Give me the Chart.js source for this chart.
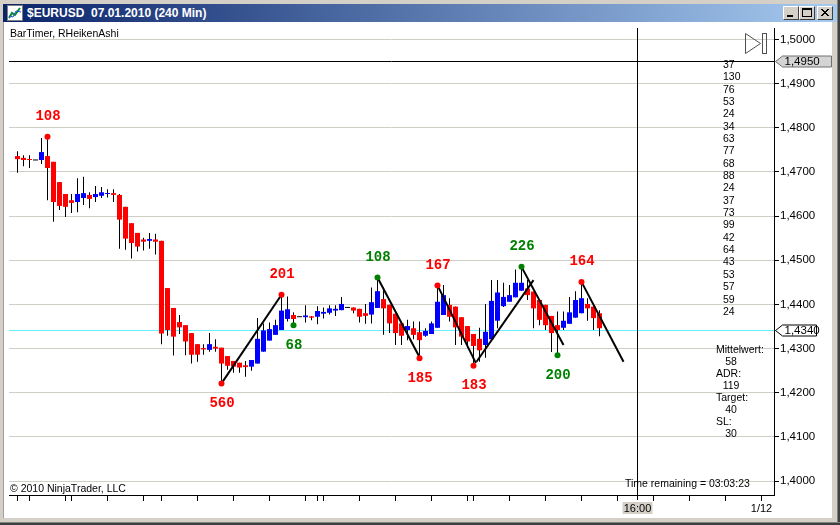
<!DOCTYPE html>
<html>
<head>
<meta charset="utf-8">
<script src="https://cdn.jsdelivr.net/npm/chart.js@4/dist/chart.umd.min.js"></script>
<style>
html,body{margin:0;padding:0;width:840px;height:525px;overflow:hidden;background:#d4d0c8;font-family:"Liberation Sans",Arial,sans-serif;}
#title{position:absolute;left:3px;top:4px;width:834px;height:18px;background:linear-gradient(to right,#0a246a,#a6caf0);}
#ttext{position:absolute;left:24px;top:2px;color:#fff;font:bold 12px "Liberation Sans",Arial,sans-serif;white-space:pre;line-height:14px;}
#ticon{position:absolute;left:4px;top:1px;}
.btn{position:absolute;top:2px;width:14px;height:12px;background:#d4d0c8;border-top:1px solid #fff;border-left:1px solid #fff;border-right:1px solid #404040;border-bottom:1px solid #404040;}
.btn svg{position:absolute;left:0;top:0;}
#client{position:absolute;left:3px;top:22px;width:828px;height:496px;background:#fff;border-left:1px solid #a0a0a0;}
#c{position:absolute;left:4px;top:22px;}
#rb1{position:absolute;left:837px;top:0;width:1px;height:525px;background:#808080;}
#rb2{position:absolute;left:838px;top:0;width:2px;height:525px;background:#404040;}
#bb1{position:absolute;left:0;top:522px;width:840px;height:1px;background:#808080;}
#bb2{position:absolute;left:0;top:523px;width:840px;height:2px;background:#404040;}
</style>
</head>
<body>
<div id="title">
  <svg id="ticon" width="16" height="16"><rect x="0.5" y="0.5" width="15" height="15" fill="#fff" stroke="#808080"/><polyline points="2,13 5,8 8,10 13,3" fill="none" stroke="#0a8a30" stroke-width="2"/><polyline points="2,11 6,12 9,6 14,7" fill="none" stroke="#2050d0" stroke-width="1"/></svg>
  <div id="ttext">$EURUSD  07.01.2010 (240 Min)</div>
  <div class="btn" style="left:780px"><svg width="14" height="12"><rect x="3" y="8" width="6" height="2" fill="#000"/></svg></div>
  <div class="btn" style="left:796px"><svg width="14" height="12"><rect x="2.5" y="1.5" width="9" height="8" fill="none" stroke="#000"/><rect x="2" y="1" width="10" height="2" fill="#000"/></svg></div>
  <div class="btn" style="left:814px"><svg width="14" height="12"><path d="M3,2 L10,9 M10,2 L3,9 M4,2 L11,9 M11,2 L4,9" stroke="#000" stroke-width="1"/></svg></div>
</div>
<div id="client"></div>
<canvas id="c" width="828" height="496" style="width:828px;height:496px"></canvas>
<div id="rb1"></div><div id="rb2"></div><div id="bb1"></div><div id="bb2"></div>
<script>
// ---- Heiken-Ashi bars (240 min) ----
const openP = [1.4736,1.4732,1.4729,1.4726,1.4727,1.4736,1.4723,1.4677,1.4650,1.4636,
1.4632,1.4641,1.4648,1.4643,1.4646,1.4650,1.4652,1.4648,1.4621,1.4584,
1.4562,1.4547,1.4544,1.4547,1.4544,1.4437,1.4392,1.4360,1.4353,1.4335,
1.4310,1.4301,1.4297,1.4304,1.4302,1.4283,1.4272,1.4268,1.4262,1.4259,
1.4266,1.4293,1.4318,1.4331,1.4342,1.4367,1.4376,1.4371,1.4371,1.4373,
1.4372,1.4379,1.4381,1.4386,1.4387,1.4392,1.4393,1.4390,1.4380,1.4377,
1.4392,1.4412,1.4399,1.4379,1.4357,1.4342,1.4346,1.4337,1.4329,1.4333,
1.4347,1.4376,1.4399,1.4395,1.4371,1.4351,1.4333,1.4322,1.4308,1.4321,
1.4363,1.4396,1.4406,1.4416,1.4431,1.4436,1.4429,1.4410,1.4399,1.4374,
1.4353,1.4347,1.4356,1.4370,1.4380,1.4401,1.4395,1.4380];
const highP = [1.4747,1.4738,1.4738,1.4726,1.4777,1.4779,1.4723,1.4677,1.4650,1.4650,
1.4686,1.4689,1.4654,1.4668,1.4666,1.4661,1.4661,1.4650,1.4621,1.4584,
1.4562,1.4551,1.4562,1.4560,1.4544,1.4437,1.4392,1.4376,1.4353,1.4335,
1.4310,1.4310,1.4335,1.4321,1.4302,1.4283,1.4272,1.4268,1.4272,1.4274,
1.4369,1.4357,1.4359,1.4365,1.4422,1.4418,1.4382,1.4371,1.4398,1.4374,
1.4396,1.4393,1.4398,1.4398,1.4417,1.4392,1.4393,1.4390,1.4401,1.4438,
1.4461,1.4433,1.4399,1.4379,1.4357,1.4365,1.4361,1.4361,1.4346,1.4361,
1.4443,1.4444,1.4414,1.4395,1.4371,1.4351,1.4333,1.4347,1.4401,1.4455,
1.4455,1.4449,1.4444,1.4479,1.4485,1.4455,1.4429,1.4410,1.4399,1.4374,
1.4384,1.4384,1.4417,1.4430,1.4451,1.4414,1.4395,1.4387];
const lowP = [1.4698,1.4713,1.4709,1.4726,1.4718,1.4636,1.4587,1.4614,1.4598,1.4607,
1.4609,1.4625,1.4618,1.4632,1.4641,1.4642,1.4632,1.4526,1.4524,1.4504,
1.4520,1.4522,1.4526,1.4513,1.4310,1.4329,1.4284,1.4333,1.4285,1.4266,
1.4270,1.4286,1.4293,1.4293,1.4221,1.4252,1.4245,1.4245,1.4236,1.4250,
1.4266,1.4293,1.4318,1.4331,1.4342,1.4361,1.4353,1.4371,1.4359,1.4364,
1.4355,1.4368,1.4377,1.4374,1.4387,1.4392,1.4380,1.4359,1.4356,1.4357,
1.4392,1.4331,1.4335,1.4308,1.4308,1.4319,1.4321,1.4278,1.4327,1.4333,
1.4347,1.4376,1.4361,1.4308,1.4308,1.4301,1.4261,1.4270,1.4279,1.4321,
1.4346,1.4394,1.4406,1.4416,1.4431,1.4410,1.4346,1.4353,1.4342,1.4292,
1.4285,1.4342,1.4356,1.4370,1.4380,1.4363,1.4342,1.4328];
const closeP = [1.4729,1.4727,1.4727,1.4726,1.4745,1.4709,1.4632,1.4623,1.4621,1.4630,
1.4650,1.4652,1.4639,1.4650,1.4654,1.4652,1.4648,1.4592,1.4549,1.4539,
1.4531,1.4542,1.4548,1.4542,1.4334,1.4342,1.4327,1.4348,1.4316,1.4286,
1.4286,1.4298,1.4310,1.4300,1.4266,1.4261,1.4259,1.4257,1.4258,1.4274,
1.4322,1.4341,1.4344,1.4353,1.4386,1.4389,1.4367,1.4371,1.4375,1.4370,
1.4385,1.4383,1.4391,1.4390,1.4401,1.4392,1.4386,1.4372,1.4374,1.4405,
1.4430,1.4391,1.4357,1.4335,1.4329,1.4351,1.4331,1.4319,1.4340,1.4357,
1.4406,1.4421,1.4372,1.4348,1.4327,1.4316,1.4306,1.4296,1.4338,1.4408,
1.4427,1.4417,1.4421,1.4449,1.4449,1.4421,1.4391,1.4365,1.4353,1.4335,
1.4342,1.4363,1.4382,1.4410,1.4414,1.4391,1.4369,1.4346];

// ---- swing points (bar index, price, label, side) ----
const swingRedIdx   = [5, 34, 44, 67, 70, 76, 94];
const swingRedPrice = [1.4780, 1.4221, 1.4422, 1.4278, 1.4443, 1.4261, 1.4451];
const swingRedText  = ['108','560','201','185','167','183','164'];
const swingRedSide  = ['H','L','H','L','H','L','H'];
const swingGreenIdx   = [46, 60, 84, 90];
const swingGreenPrice = [1.4353, 1.4461, 1.4485, 1.4285];
const swingGreenText  = ['68','108','226','200'];
const swingGreenSide  = ['L','H','H','L'];

// ---- projection lines (start bar, start price, end bar, end price) ----
const segStartX = [34, 60, 70, 76.5, 84, 94];
const segStartY = [1.4221, 1.4461, 1.4443, 1.4270, 1.4485, 1.4451];
const segEndX   = [44, 67.1, 76.4, 86, 91, 101];
const segEndY   = [1.4422, 1.4278, 1.4267, 1.4455, 1.4308, 1.4270];

// ---- axis / annotation values ----
const timeTickBars = [0,2,8,9,15,21,24,30,36,42,48,50,51,57,63,69,75,76,82,88,94,100,106,112,118,124];
const timeTickLabels = {124: '1/12'};
const rangeValues = [37,130,76,53,24,34,63,77,68,88,24,37,73,99,42,64,43,53,57,59,24];
const statLabels = ['Mittelwert:','ADR:','Target:','SL:'];
const statValues = [58, 119, 40, 30];
const crossPrice = 1.4950;
const lastPrice = 1.4340;
const cursorBar = 103.33;
const cursorLabel = '16:00';
const timeRemaining = '03:03:23';

const fmt = v => v.toFixed(4).replace('.', ',');
const FONT = '"Liberation Sans", Arial, sans-serif';

const wickData = openP.map((o, i) => ({x: i, y: [lowP[i], highP[i]]}));
const bodyData = openP.map((o, i) => ({x: i, y: [o, closeP[i]]}));
const bodyColors = openP.map((o, i) => closeP[i] > o ? '#0000ff' : (closeP[i] < o ? '#ff0000' : '#000000'));

const segDatasets = segStartX.map((sx, k) => ({
  type: 'line', order: 3,
  data: [{x: sx, y: segStartY[k]}, {x: segEndX[k], y: segEndY[k]}],
  borderColor: '#000', borderWidth: 2, pointRadius: 0, fill: false, tension: 0
}));

const overlay = {
  id: 'overlay',
  beforeDatasetsDraw(chart) {
    const {ctx, chartArea: a, scales: {x, y}} = chart;
    ctx.save();
    ctx.lineWidth = 1;
    const yl = Math.floor(y.getPixelForValue(lastPrice)) + 0.5;
    ctx.strokeStyle = '#66eeff';
    ctx.beginPath(); ctx.moveTo(a.left, yl); ctx.lineTo(a.right, yl); ctx.stroke();
    const yc = Math.floor(y.getPixelForValue(crossPrice)) + 0.5;
    ctx.strokeStyle = '#000';
    ctx.beginPath(); ctx.moveTo(a.left, yc); ctx.lineTo(a.right, yc); ctx.stroke();
    const xc = Math.floor(x.getPixelForValue(cursorBar)) + 0.5;
    ctx.beginPath(); ctx.moveTo(xc, a.top); ctx.lineTo(xc, a.bottom + 5); ctx.stroke();
    ctx.restore();
  },
  afterDatasetsDraw(chart) {
    const {ctx, scales: {x, y}} = chart;
    ctx.save();
    ctx.font = 'bold 14px "Liberation Mono", "Courier New", monospace';
    ctx.textAlign = 'center'; ctx.textBaseline = 'middle';
    const draw = (idx, pr, tx, sd, col) => {
      idx.forEach((b, k) => {
        const px = x.getPixelForValue(b), py = y.getPixelForValue(pr[k]);
        ctx.fillStyle = col;
        ctx.fillText(tx[k], px + 0.5, py + (sd[k] === 'H' ? -20 : 20));
      });
    };
    draw(swingRedIdx, swingRedPrice, swingRedText, swingRedSide, '#ff0000');
    draw(swingGreenIdx, swingGreenPrice, swingGreenText, swingGreenSide, '#008000');
    ctx.restore();
  },
  afterDraw(chart) {
    const {ctx, chartArea: a, scales: {x, y}} = chart;
    ctx.save();
    ctx.textBaseline = 'middle';
    ctx.fillStyle = '#000';
    ctx.font = '10.5px ' + FONT;
    ctx.textAlign = 'left';
    ctx.fillText('BarTimer, RHeikenAshi', 6, 12);
    // range column
    ctx.font = '10.5px ' + FONT;
    rangeValues.forEach((v, k) => ctx.fillText(String(v), 719, 43 + 12.35 * k));
    // stats block
    statLabels.forEach((l, k) => {
      ctx.textAlign = 'left';
      ctx.fillText(l, 712, 328 + 24.2 * k);
      ctx.textAlign = 'center';
      ctx.fillText(String(statValues[k]), 727, 340 + 24.2 * k);
    });
    ctx.textAlign = 'left';
    ctx.fillText('Time remaining = ' + timeRemaining, 621, 462);
    ctx.fillText('\u00A9 2010 NinjaTrader, LLC', 6, 467);
    // scroll-to-end icon
    ctx.strokeStyle = '#505050'; ctx.lineWidth = 1;
    ctx.beginPath(); ctx.moveTo(741.5, 11.5); ctx.lineTo(756.5, 21.5); ctx.lineTo(741.5, 31.5); ctx.closePath(); ctx.stroke();
    ctx.strokeRect(758.5, 11.5, 4, 20);
    // price markers on the axis
    const marker = (price, fill, stroke, wEnd) => {
      const py = Math.floor(y.getPixelForValue(price)) + 0.5;
      const l = a.right + 1.5, bx = a.right + 8.5;
      ctx.beginPath();
      ctx.moveTo(l, py); ctx.lineTo(bx, py - 5.5); ctx.lineTo(wEnd, py - 5.5);
      ctx.lineTo(wEnd, py + 5.5); ctx.lineTo(bx, py + 5.5); ctx.closePath();
      ctx.fillStyle = fill; ctx.fill();
      ctx.strokeStyle = stroke; ctx.stroke();
      ctx.fillStyle = '#000'; ctx.font = '11.5px ' + FONT; ctx.textAlign = 'left';
      ctx.fillText(fmt(price), bx + 2, py + 0.5);
    };
    marker(crossPrice, '#d4d4d4', '#707070', 827.5);
    marker(lastPrice, '#ffffff', '#000000', 812.5);
    // cursor time box
    const xc = Math.floor(x.getPixelForValue(cursorBar)) + 0.5;
    ctx.fillStyle = '#d4d0c8';
    ctx.fillRect(xc - 15, a.bottom + 7, 30, 12);
    ctx.fillStyle = '#000'; ctx.textAlign = 'center'; ctx.font = '11px ' + FONT;
    ctx.fillText(cursorLabel, xc, a.bottom + 13.5);
    ctx.restore();
  }
};

new Chart(document.getElementById('c'), {
  type: 'bar',
  data: {
    datasets: [
      {type: 'scatter', order: 1, data: swingRedIdx.map((b, k) => ({x: b, y: swingRedPrice[k]})),
       pointRadius: 3, pointBackgroundColor: '#ff0000', pointBorderColor: '#ff0000', pointBorderWidth: 0},
      {type: 'scatter', order: 1, data: swingGreenIdx.map((b, k) => ({x: b, y: swingGreenPrice[k]})),
       pointRadius: 3, pointBackgroundColor: '#008000', pointBorderColor: '#008000', pointBorderWidth: 0},
      ...segDatasets,
      {type: 'bar', order: 4, data: bodyData, backgroundColor: bodyColors, barThickness: 5,
       borderWidth: 0, inflateAmount: 0, minBarLength: 1, grouped: false},
      {type: 'bar', order: 5, data: wickData, backgroundColor: '#000', barThickness: 1,
       borderWidth: 0, inflateAmount: 0, grouped: false}
    ]
  },
  options: {
    responsive: false, animation: false, devicePixelRatio: 1,
    layout: {padding: {left: 5, top: 6, right: 0, bottom: 0}},
    plugins: {legend: {display: false}, tooltip: {enabled: false}},
    scales: {
      x: {
        type: 'linear', min: -1.416667, max: 126.083333, offset: false,
        grid: {drawOnChartArea: false, drawTicks: true, tickLength: 6, tickColor: '#000', offset: false},
        border: {display: true, color: '#000', width: 1},
        afterBuildTicks: s => { s.ticks = timeTickBars.map(v => ({value: v})); },
        ticks: {autoSkip: false, maxRotation: 0, minRotation: 0, padding: 1, color: '#000',
                font: {family: FONT, size: 11}, callback: v => timeTickLabels[v] || ''},
        afterFit: s => { s.height = 23; s.paddingLeft = 0; s.paddingRight = 0; }
      },
      y: {
        type: 'linear', position: 'right', min: 1.396829, max: 1.502605,
        grid: {color: '#d0cec6', tickColor: '#000', tickLength: 5, drawTicks: true},
        border: {display: true, color: '#000', width: 1},
        ticks: {stepSize: 0.01, includeBounds: false, maxTicksLimit: 20, padding: 1, color: '#000',
                font: {family: FONT, size: 11.5}, callback: v => fmt(v)},
        afterFit: s => { s.width = 58; s.paddingTop = 0; s.paddingBottom = 0; }
      }
    }
  },
  plugins: [overlay]
});
</script>
</body>
</html>
